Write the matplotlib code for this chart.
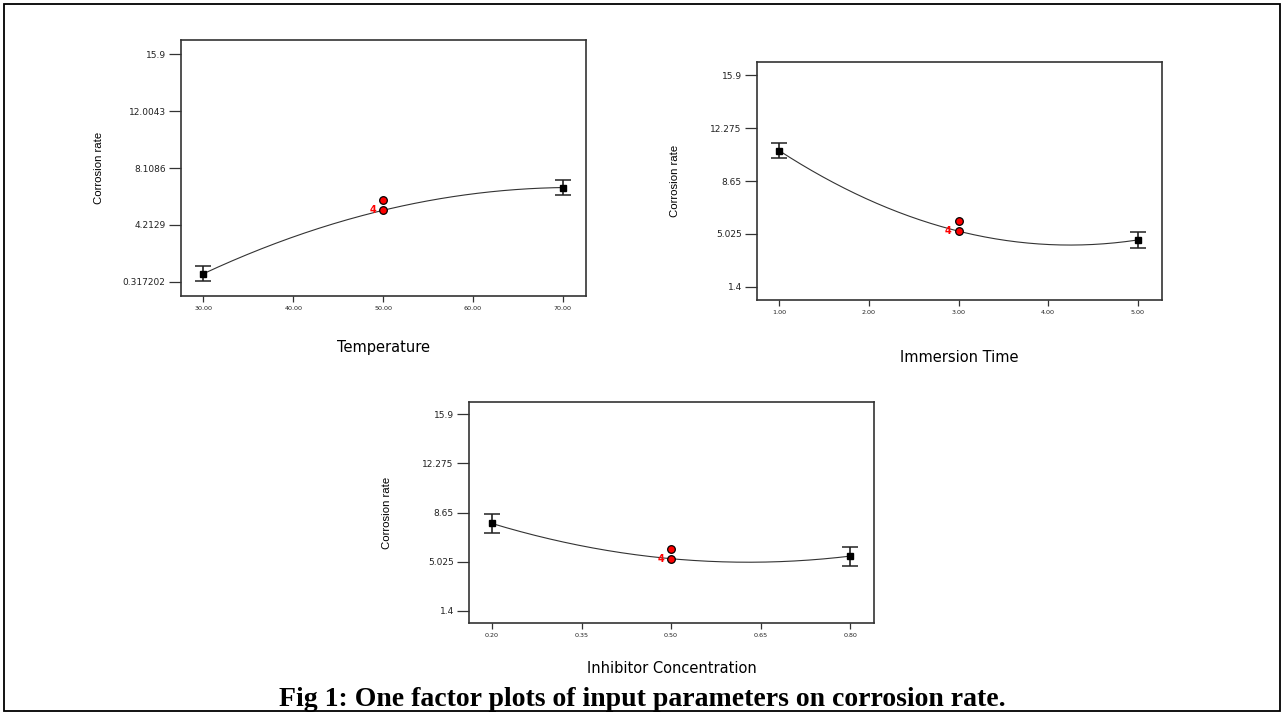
import numpy as np
import matplotlib
matplotlib.use("Agg")
import matplotlib.pyplot as plt
from matplotlib.patches import Rectangle

# one factor plots: factor levels, predicted means, error bar half widths
temp_levels = [30.0, 50.0, 70.0]
temp_means = [0.87, 5.21, 6.77]
temp_err = [0.53, 0.0, 0.53]
temp_design = [5.21, 5.92]
temp_ticks = [30.0, 40.0, 50.0, 60.0, 70.0]
temp_yticks = [0.317202, 4.2129, 8.1086, 12.0043, 15.9]
temp_yticklabels = ["0.317202", "4.2129", "8.1086", "12.0043", "15.9"]

time_levels = [1.0, 3.0, 5.0]
time_means = [10.72, 5.21, 4.61]
time_err = [0.52, 0.0, 0.52]
time_design = [5.21, 5.93]
time_ticks = [1.0, 2.0, 3.0, 4.0, 5.0]

conc_levels = [0.2, 0.5, 0.8]
conc_means = [7.84, 5.24, 5.43]
conc_err = [0.69, 0.0, 0.71]
conc_design = [5.24, 5.95]
conc_ticks = [0.20, 0.35, 0.50, 0.65, 0.80]

common_yticks = [1.4, 5.025, 8.65, 12.275, 15.9]
common_yticklabels = ["1.4", "5.025", "8.65", "12.275", "15.9"]

W, H = 1282, 714
fig = plt.figure(figsize=(W / 100, H / 100), dpi=100)

narrow = ["Liberation Sans Narrow", "Liberation Sans", "DejaVu Sans"]


def px_axes(left, top, right, bottom):
    return fig.add_axes([left / W, 1 - bottom / H, (right - left) / W, (bottom - top) / H])


def one_factor(ax, levels, means, err, design, xticks, xlim, yticks, yticklabels,
               xlabel, xlab_off, xfmt):
    coef = np.polyfit(levels, means, 2)
    xs = np.linspace(levels[0], levels[-1], 200)
    ax.plot(xs, np.polyval(coef, xs), color="#333333", lw=0.8, zorder=2)
    ends = [0, 2]
    ax.errorbar([levels[i] for i in ends], [means[i] for i in ends],
                yerr=[err[i] for i in ends], fmt="s", color="black", ms=5,
                ecolor="#222222", elinewidth=1.2, capsize=6, capthick=1.1, zorder=3)
    ax.plot([levels[1]] * len(design), design, "o", mfc="red", mec="black",
            mew=0.9, ms=5.5, zorder=4)
    ax.annotate("4", (levels[1], design[0]), xytext=(-5, 0), textcoords="offset points",
                color="red", fontsize=7, fontweight="bold", ha="right", va="center")
    step = yticks[1] - yticks[0]
    ax.set_ylim(yticks[0] - 0.25 * step, yticks[-1] + 0.25 * step)
    ax.set_xlim(*xlim)
    ax.set_yticks(yticks)
    ax.set_yticklabels(yticklabels)
    ax.set_xticks(xticks)
    ax.set_xticklabels([xfmt.format(v) for v in xticks])
    ax.tick_params(axis="y", direction="out", length=8.5, width=0.9, pad=2.5,
                   labelsize=6.5, colors="#333333", labelcolor="#222222")
    ax.tick_params(axis="x", direction="out", length=4.5, width=0.9, pad=3,
                   labelsize=4.6, colors="#333333", labelcolor="#222222")
    for s in ax.spines.values():
        s.set_color("#333333")
        s.set_linewidth(1.2)
    ax.set_xlabel(xlabel, fontsize=10.5, family="DejaVu Sans")
    ax.xaxis.set_label_coords(0.5, xlab_off)
    ax.set_ylabel("Corrosion rate", fontsize=8.2, family=narrow)
    ax.yaxis.set_label_coords(-0.19, 0.5)


ax1 = px_axes(181, 40, 586, 296)
one_factor(ax1, temp_levels, temp_means, temp_err, temp_design, temp_ticks,
           (27.5, 72.6), temp_yticks, temp_yticklabels, "Temperature", -0.17, "{:.2f}")

ax2 = px_axes(757, 62, 1162, 300)
one_factor(ax2, time_levels, time_means, time_err, time_design, time_ticks,
           (0.75, 5.27), common_yticks, common_yticklabels, "Immersion Time", -0.21, "{:.2f}")

ax3 = px_axes(469, 402, 874, 623)
one_factor(ax3, conc_levels, conc_means, conc_err, conc_design, conc_ticks,
           (0.1615, 0.84), common_yticks, common_yticklabels, "Inhibitor Concentration",
           -0.17, "{:.2f}")

fig.patches.append(Rectangle((3.5 / W, 3 / H), (1280 - 3.5) / W, (711 - 3.5) / H,
                             transform=fig.transFigure, fill=False, edgecolor="black",
                             lw=1.3, zorder=10))

fig.text(642 / W, 1 - 700 / H, "Fig 1: One factor plots of input parameters on corrosion rate.",
         ha="center", va="center", fontsize=20, fontweight="bold",
         family=["Liberation Serif", "DejaVu Serif"])

fig.savefig("out.png", dpi=100)
